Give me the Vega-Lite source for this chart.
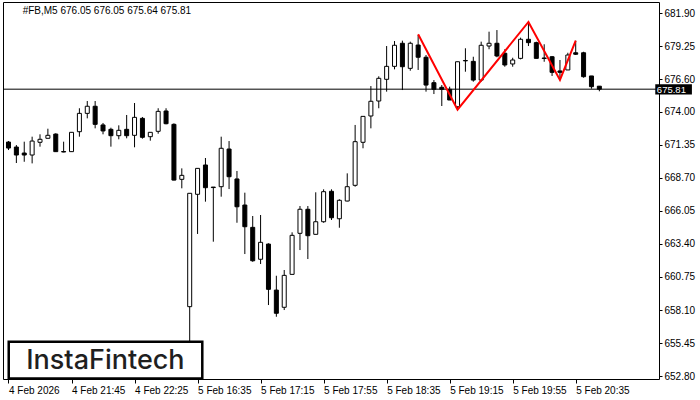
{
  "$schema": "https://vega.github.io/schema/vega-lite/v6.json",
  "autosize": {"type": "none"},
  "padding": {"left": 3, "top": 2, "right": 41, "bottom": 21},
  "width": 656,
  "height": 377,
  "background": "white",
  "config": {
    "view": {"stroke": "black", "strokeWidth": 1},
    "font": "Liberation Sans",
    "axis": {"labelOverlap": false, "labelFlush": false, "labelBound": false, "grid": false, "domain": false}
  },
  "datasets": {
    "candles": [
      {"i":0,"t":"4 Feb 21:05","o":671.57,"h":671.65,"l":670.93,"c":671.09},
      {"i":1,"t":"4 Feb 21:10","o":671.17,"h":671.33,"l":669.89,"c":670.53},
      {"i":2,"t":"4 Feb 21:15","o":670.69,"h":671.60,"l":669.99,"c":670.53},
      {"i":3,"t":"4 Feb 21:20","o":670.53,"h":672.00,"l":669.86,"c":671.65},
      {"i":4,"t":"4 Feb 21:25","o":671.55,"h":672.19,"l":671.20,"c":671.79},
      {"i":5,"t":"4 Feb 21:30","o":671.87,"h":672.64,"l":671.87,"c":672.11},
      {"i":6,"t":"4 Feb 21:35","o":672.21,"h":672.27,"l":670.80,"c":670.80},
      {"i":7,"t":"4 Feb 21:40","o":670.81,"h":671.60,"l":670.75,"c":670.77},
      {"i":8,"t":"4 Feb 21:45","o":670.80,"h":672.35,"l":670.80,"c":672.35},
      {"i":9,"t":"4 Feb 21:50","o":672.40,"h":674.28,"l":672.00,"c":673.87},
      {"i":10,"t":"4 Feb 21:55","o":673.87,"h":674.86,"l":673.47,"c":674.44},
      {"i":11,"t":"4 Feb 22:00","o":674.44,"h":674.86,"l":672.67,"c":672.99},
      {"i":12,"t":"4 Feb 22:05","o":672.94,"h":673.10,"l":672.19,"c":672.46},
      {"i":13,"t":"4 Feb 22:10","o":672.59,"h":672.72,"l":671.20,"c":672.08},
      {"i":14,"t":"4 Feb 22:15","o":672.08,"h":672.91,"l":671.79,"c":672.51},
      {"i":15,"t":"4 Feb 22:20","o":672.59,"h":673.74,"l":671.87,"c":672.08},
      {"i":16,"t":"4 Feb 22:25","o":672.11,"h":674.70,"l":671.15,"c":673.55},
      {"i":17,"t":"4 Feb 22:30","o":673.47,"h":673.58,"l":671.84,"c":671.95},
      {"i":18,"t":"4 Feb 22:35","o":672.00,"h":672.35,"l":671.68,"c":672.35},
      {"i":19,"t":"4 Feb 22:40","o":672.43,"h":674.28,"l":672.24,"c":674.03},
      {"i":20,"t":"4 Feb 22:45","o":674.06,"h":674.28,"l":672.99,"c":673.04},
      {"i":21,"t":"4 Feb 22:50","o":672.99,"h":673.07,"l":668.50,"c":668.52},
      {"i":22,"t":"4 Feb 22:55","o":668.58,"h":669.46,"l":667.86,"c":668.90},
      {"i":23,"t":"4 Feb 23:00","o":658.37,"h":667.46,"l":655.00,"c":667.46},
      {"i":24,"t":"5 Feb 16:35","o":667.38,"h":669.46,"l":664.20,"c":669.46},
      {"i":25,"t":"5 Feb 16:40","o":669.73,"h":670.29,"l":666.79,"c":667.91},
      {"i":26,"t":"5 Feb 16:45","o":667.96,"h":667.96,"l":663.58,"c":667.92},
      {"i":27,"t":"5 Feb 16:50","o":667.99,"h":672.00,"l":667.19,"c":671.07},
      {"i":28,"t":"5 Feb 16:55","o":671.01,"h":671.65,"l":667.80,"c":668.79},
      {"i":29,"t":"5 Feb 17:00","o":668.61,"h":669.25,"l":665.10,"c":666.38},
      {"i":30,"t":"5 Feb 17:05","o":666.52,"h":667.51,"l":662.59,"c":664.78},
      {"i":31,"t":"5 Feb 17:10","o":664.73,"h":665.64,"l":661.97,"c":662.05},
      {"i":32,"t":"5 Feb 17:15","o":662.17,"h":665.72,"l":661.79,"c":663.53},
      {"i":33,"t":"5 Feb 17:20","o":663.39,"h":663.45,"l":658.50,"c":659.76},
      {"i":34,"t":"5 Feb 17:25","o":659.70,"h":660.85,"l":657.56,"c":657.84},
      {"i":35,"t":"5 Feb 17:30","o":658.32,"h":661.31,"l":658.10,"c":660.88},
      {"i":36,"t":"5 Feb 17:35","o":660.96,"h":664.33,"l":660.96,"c":664.09},
      {"i":37,"t":"5 Feb 17:40","o":664.25,"h":666.44,"l":662.91,"c":666.18},
      {"i":38,"t":"5 Feb 17:45","o":666.18,"h":666.44,"l":662.19,"c":664.06},
      {"i":39,"t":"5 Feb 17:50","o":664.17,"h":667.54,"l":664.17,"c":665.18},
      {"i":40,"t":"5 Feb 17:55","o":665.18,"h":667.78,"l":665.10,"c":667.59},
      {"i":41,"t":"5 Feb 18:00","o":667.62,"h":667.78,"l":665.32,"c":665.50},
      {"i":42,"t":"5 Feb 18:05","o":665.42,"h":666.98,"l":664.70,"c":666.90},
      {"i":43,"t":"5 Feb 18:10","o":666.84,"h":669.06,"l":666.82,"c":667.99},
      {"i":44,"t":"5 Feb 18:15","o":668.10,"h":672.94,"l":667.99,"c":671.60},
      {"i":45,"t":"5 Feb 18:20","o":671.55,"h":673.63,"l":671.07,"c":673.63},
      {"i":46,"t":"5 Feb 18:25","o":673.66,"h":676.06,"l":672.67,"c":674.84},
      {"i":47,"t":"5 Feb 18:30","o":674.86,"h":676.84,"l":674.28,"c":676.68},
      {"i":48,"t":"5 Feb 18:35","o":676.60,"h":679.27,"l":675.61,"c":677.64},
      {"i":49,"t":"5 Feb 18:40","o":677.64,"h":679.67,"l":677.40,"c":679.33},
      {"i":50,"t":"5 Feb 18:45","o":679.49,"h":679.70,"l":675.74,"c":677.61},
      {"i":51,"t":"5 Feb 18:50","o":677.48,"h":679.62,"l":677.29,"c":679.49},
      {"i":52,"t":"5 Feb 18:55","o":679.35,"h":680.15,"l":677.35,"c":678.37},
      {"i":53,"t":"5 Feb 19:00","o":678.37,"h":678.55,"l":675.61,"c":676.14},
      {"i":54,"t":"5 Feb 19:05","o":676.33,"h":676.54,"l":675.42,"c":675.80},
      {"i":55,"t":"5 Feb 19:10","o":675.96,"h":676.14,"l":674.46,"c":675.80},
      {"i":56,"t":"5 Feb 19:15","o":675.80,"h":676.01,"l":674.94,"c":674.94},
      {"i":57,"t":"5 Feb 19:20","o":674.40,"h":678.01,"l":674.14,"c":678.01},
      {"i":58,"t":"5 Feb 19:25","o":678.11,"h":679.09,"l":677.21,"c":678.08},
      {"i":59,"t":"5 Feb 19:30","o":678.04,"h":678.41,"l":676.41,"c":676.54},
      {"i":60,"t":"5 Feb 19:35","o":676.54,"h":679.62,"l":676.41,"c":679.33},
      {"i":61,"t":"5 Feb 19:40","o":679.27,"h":680.42,"l":679.01,"c":679.49},
      {"i":62,"t":"5 Feb 19:45","o":679.49,"h":680.55,"l":678.37,"c":678.47},
      {"i":63,"t":"5 Feb 19:50","o":678.69,"h":679.01,"l":677.61,"c":677.75},
      {"i":64,"t":"5 Feb 19:55","o":677.83,"h":678.33,"l":677.61,"c":678.15},
      {"i":65,"t":"5 Feb 20:00","o":678.28,"h":679.94,"l":678.20,"c":679.81},
      {"i":66,"t":"5 Feb 20:05","o":679.81,"h":681.22,"l":679.27,"c":679.54},
      {"i":67,"t":"5 Feb 20:10","o":679.54,"h":679.62,"l":678.28,"c":678.28},
      {"i":68,"t":"5 Feb 20:15","o":678.31,"h":679.41,"l":678.01,"c":678.27},
      {"i":69,"t":"5 Feb 20:20","o":678.41,"h":678.47,"l":676.87,"c":677.16},
      {"i":70,"t":"5 Feb 20:25","o":677.27,"h":678.15,"l":676.54,"c":677.16},
      {"i":71,"t":"5 Feb 20:30","o":677.35,"h":678.73,"l":677.35,"c":678.55},
      {"i":72,"t":"5 Feb 20:35","o":678.73,"h":679.70,"l":678.55,"c":678.61},
      {"i":73,"t":"5 Feb 20:40","o":678.73,"h":678.81,"l":676.73,"c":676.81},
      {"i":74,"t":"5 Feb 20:45","o":676.87,"h":676.87,"l":675.85,"c":676.01},
      {"i":75,"t":"5 Feb 20:50","o":676.05,"h":676.05,"l":675.64,"c":675.81}
    ],
    "pattern": [
      {"i":52,"p":680.21},
      {"i":57,"p":674.16},
      {"i":66,"p":681.20},
      {"i":70,"p":676.55},
      {"i":72,"p":679.70}
    ]
  },
  "layer": [
    {
      "data": {"name": "candles"},
      "mark": {"type": "rule", "color": "black", "strokeWidth": 1, "clip": true},
      "encoding": {
        "x": {
          "field": "i", "type": "quantitative",
          "scale": {"domain": [-0.0625, 81.9375], "nice": false, "zero": false},
          "axis": {
            "orient": "bottom",
            "title": null,
            "values": [0, 8, 16, 24, 32, 40, 48, 56, 64, 72],
            "tickCount": 30,
            "labelExpr": "['4 Feb 2026','4 Feb 21:45','4 Feb 22:25','5 Feb 16:35','5 Feb 17:15','5 Feb 17:55','5 Feb 18:35','5 Feb 19:15','5 Feb 19:55','5 Feb 20:35'][round(datum.value / 8)]",
            "labelAlign": "left",
            "labelBaseline": "top",
            "labelFlush": false,
            "labelOverlap": false,
            "labelFont": "Liberation Sans",
            "labelFontSize": 10,
            "labelColor": "black",
            "labelPadding": 2,
            "tickColor": "black",
            "tickSize": 4,
            "domain": false,
            "grid": false
          }
        },
        "y": {
          "field": "l", "type": "quantitative",
          "scale": {"domain": [652.57, 682.80], "nice": false, "zero": false},
          "axis": {
            "orient": "right",
            "title": null,
            "values": [652.80, 655.45, 658.10, 660.75, 663.40, 666.05, 668.70, 671.35, 674.00, 676.60, 679.25, 681.90],
            "tickCount": 30,
            "format": ".2f",
            "labelFont": "Liberation Sans",
            "labelFontSize": 10,
            "labelColor": "black",
            "labelPadding": 2,
            "labelBaseline": "middle",
            "labelFlush": false,
            "labelOverlap": false,
            "tickColor": "black",
            "tickSize": 3,
            "domain": false,
            "grid": false
          }
        },
        "y2": {"field": "h"}
      }
    },
    {
      "data": {"name": "candles"},
      "mark": {"type": "bar", "orient": "vertical", "size": 4, "stroke": "black", "strokeWidth": 1, "clip": true},
      "encoding": {
        "x": {"field": "i", "type": "quantitative"},
        "y": {"field": "o", "type": "quantitative"},
        "y2": {"field": "c"},
        "fill": {
          "condition": {"test": "datum.c >= datum.o", "value": "white"},
          "value": "black"
        }
      }
    },
    {
      "data": {"values": [{"price": 675.81}]},
      "mark": {"type": "rule", "color": "black", "strokeWidth": 1},
      "encoding": {
        "y": {"field": "price", "type": "quantitative"}
      }
    },
    {
      "data": {"name": "pattern"},
      "mark": {"type": "line", "color": "#ff0000", "strokeWidth": 2, "clip": true},
      "encoding": {
        "x": {"field": "i", "type": "quantitative"},
        "y": {"field": "p", "type": "quantitative"}
      }
    },
    {
      "data": {"values": [{"label": "InstaFintech"}]},
      "mark": {"type": "rect", "fill": "white", "stroke": "black", "strokeWidth": 2.5},
      "encoding": {
        "x": {"datum": 0.03, "type": "quantitative"},
        "x2": {"datum": 24.6},
        "y": {"datum": 655.56, "type": "quantitative"},
        "y2": {"datum": 652.62}
      }
    },
    {
      "data": {"values": [{"label": "InstaFintech"}]},
      "mark": {"type": "text", "font": "Inter", "fontSize": 27, "fontWeight": 500, "color": "#1f1f1f", "align": "center", "baseline": "alphabetic"},
      "encoding": {
        "x": {"datum": 12.3, "type": "quantitative"},
        "y": {"datum": 653.39, "type": "quantitative"},
        "text": {"field": "label"}
      }
    },
    {
      "data": {"values": [{"price": 675.81}]},
      "mark": {"type": "rect", "fill": "black", "clip": false},
      "encoding": {
        "x": {"datum": 82.1, "type": "quantitative"},
        "x2": {"datum": 86.75},
        "y": {"datum": 676.20, "type": "quantitative"},
        "y2": {"datum": 675.38}
      }
    },
    {
      "data": {"values": [{"price": 675.81}]},
      "mark": {"type": "text", "font": "Liberation Sans", "fontSize": 9.5, "color": "white", "align": "left", "baseline": "middle", "clip": false},
      "encoding": {
        "x": {"datum": 82.3, "type": "quantitative"},
        "y": {"datum": 675.75, "type": "quantitative"},
        "text": {"field": "price", "type": "quantitative", "format": ".2f"}
      }
    },
    {
      "data": {"values": [{"label": "#FB,M5  676.05 676.05 675.64 675.81"}]},
      "mark": {"type": "text", "font": "Liberation Sans", "fontSize": 10, "color": "black", "align": "left", "baseline": "middle"},
      "encoding": {
        "x": {"datum": 1.8, "type": "quantitative"},
        "y": {"datum": 682.1, "type": "quantitative"},
        "text": {"field": "label"}
      }
    }
  ]
}
